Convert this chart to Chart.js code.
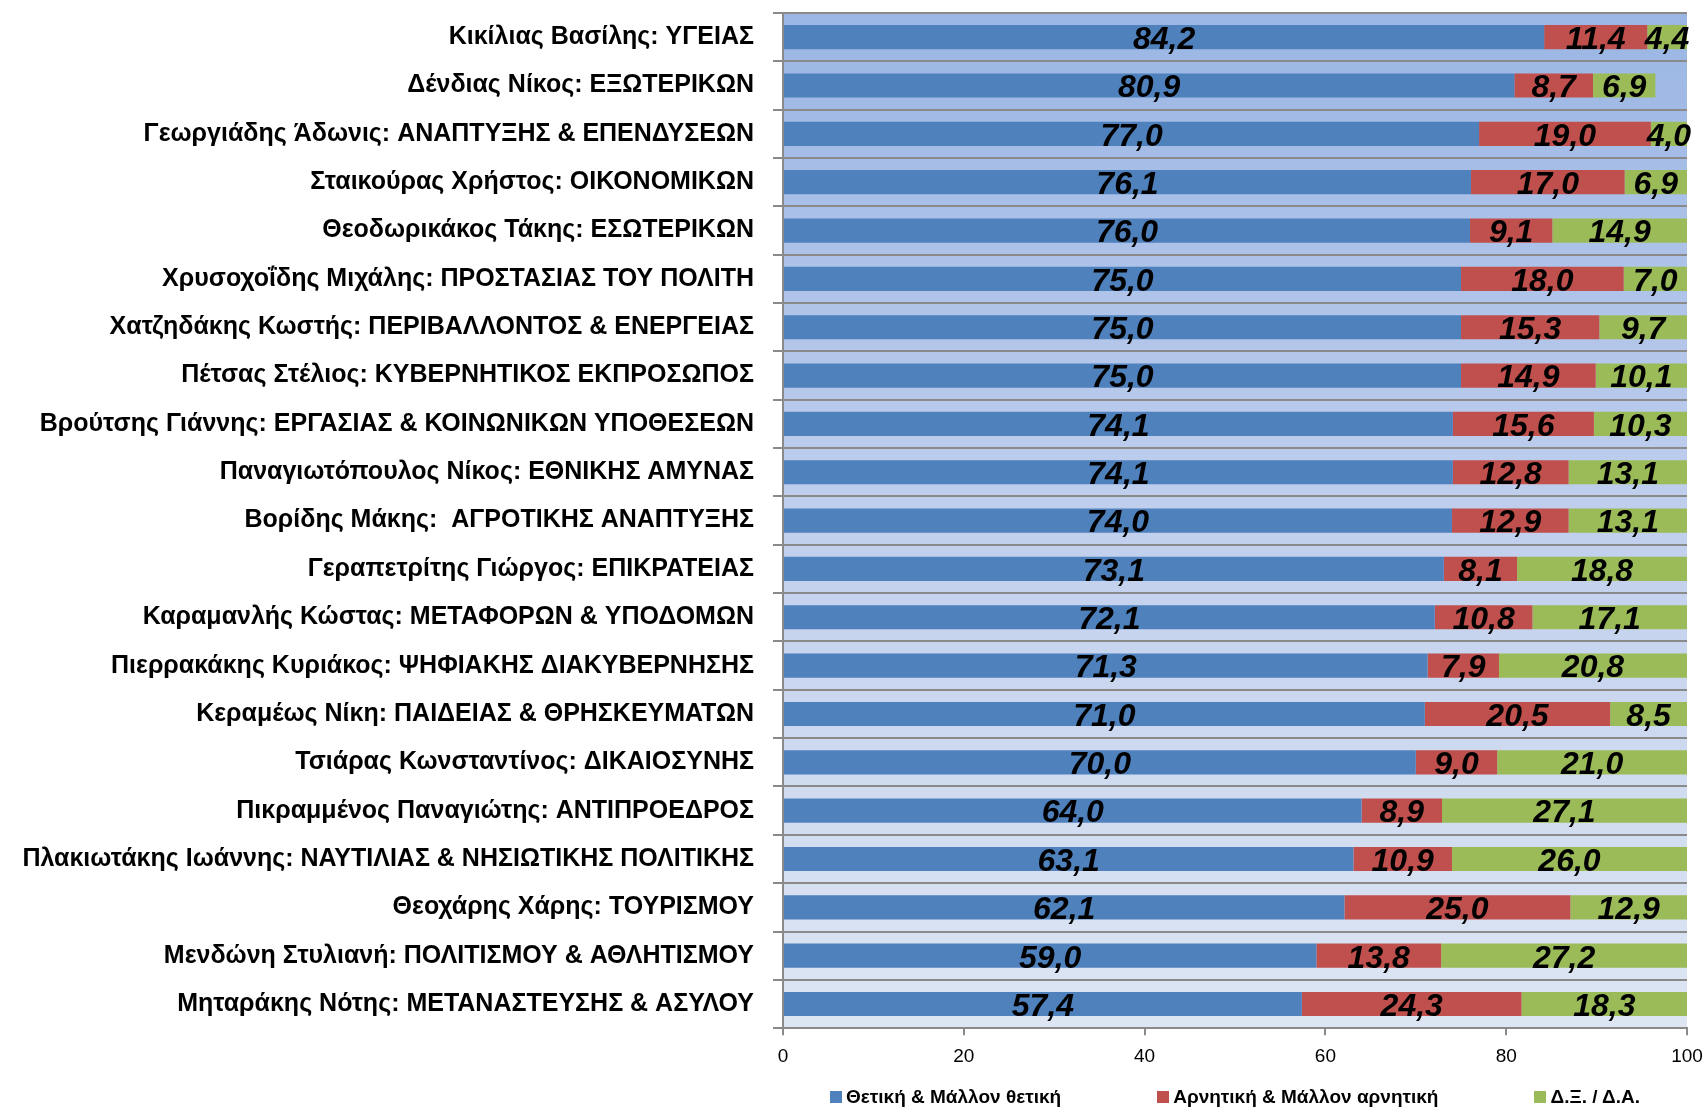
<!DOCTYPE html>
<html lang="el">
<head>
<meta charset="utf-8">
<title>Υπουργοί – θετική / αρνητική γνώμη</title>
<script src="https://cdn.jsdelivr.net/npm/chart.js@4.4.1/dist/chart.umd.min.js"></script>
<style>
  html, body { margin: 0; background: #fff; }
  #wrap { position: relative; width: 1706px; height: 1108px; }
  #chart { position: absolute; left: 0; top: 0; }
  #legend {
    position: absolute; left: 783px; width: 904px; top: 1086px;
    display: flex; justify-content: center; gap: 96px;
    font: bold 19px "Liberation Sans", Arial, sans-serif; color: #000;
  }
  #legend span.item { display: flex; align-items: center; white-space: nowrap; }
  #legend i { display: inline-block; width: 12px; height: 12px; margin-right: 4px; }
</style>
</head>
<body>
<div id="wrap">
  <canvas id="chart" width="1706" height="1108"></canvas>
  <div id="legend"></div>
</div>
<script>
// ministers, top to bottom
const ministers = [
  "Κικίλιας Βασίλης: ΥΓΕΙΑΣ",
  "Δένδιας Νίκος: ΕΞΩΤΕΡΙΚΩΝ",
  "Γεωργιάδης Άδωνις: ΑΝΑΠΤΥΞΗΣ & ΕΠΕΝΔΥΣΕΩΝ",
  "Σταικούρας Χρήστος: ΟΙΚΟΝΟΜΙΚΩΝ",
  "Θεοδωρικάκος Τάκης: ΕΣΩΤΕΡΙΚΩΝ",
  "Χρυσοχοΐδης Μιχάλης: ΠΡΟΣΤΑΣΙΑΣ ΤΟΥ ΠΟΛΙΤΗ",
  "Χατζηδάκης Κωστής: ΠΕΡΙΒΑΛΛΟΝΤΟΣ & ΕΝΕΡΓΕΙΑΣ",
  "Πέτσας Στέλιος: ΚΥΒΕΡΝΗΤΙΚΟΣ ΕΚΠΡΟΣΩΠΟΣ",
  "Βρούτσης Γιάννης: ΕΡΓΑΣΙΑΣ & ΚΟΙΝΩΝΙΚΩΝ ΥΠΟΘΕΣΕΩΝ",
  "Παναγιωτόπουλος Νίκος: ΕΘΝΙΚΗΣ ΑΜΥΝΑΣ",
  "Βορίδης Μάκης:  ΑΓΡΟΤΙΚΗΣ ΑΝΑΠΤΥΞΗΣ",
  "Γεραπετρίτης Γιώργος: ΕΠΙΚΡΑΤΕΙΑΣ",
  "Καραμανλής Κώστας: ΜΕΤΑΦΟΡΩΝ & ΥΠΟΔΟΜΩΝ",
  "Πιερρακάκης Κυριάκος: ΨΗΦΙΑΚΗΣ ΔΙΑΚΥΒΕΡΝΗΣΗΣ",
  "Κεραμέως Νίκη: ΠΑΙΔΕΙΑΣ & ΘΡΗΣΚΕΥΜΑΤΩΝ",
  "Τσιάρας Κωνσταντίνος: ΔΙΚΑΙΟΣΥΝΗΣ",
  "Πικραμμένος Παναγιώτης: ΑΝΤΙΠΡΟΕΔΡΟΣ",
  "Πλακιωτάκης Ιωάννης: ΝΑΥΤΙΛΙΑΣ & ΝΗΣΙΩΤΙΚΗΣ ΠΟΛΙΤΙΚΗΣ",
  "Θεοχάρης Χάρης: ΤΟΥΡΙΣΜΟΥ",
  "Μενδώνη Στυλιανή: ΠΟΛΙΤΙΣΜΟΥ & ΑΘΛΗΤΙΣΜΟΥ",
  "Μηταράκης Νότης: ΜΕΤΑΝΑΣΤΕΥΣΗΣ & ΑΣΥΛΟΥ"
];

const positive = [84.2, 80.9, 77.0, 76.1, 76.0, 75.0, 75.0, 75.0, 74.1, 74.1, 74.0, 73.1, 72.1, 71.3, 71.0, 70.0, 64.0, 63.1, 62.1, 59.0, 57.4];
const negative = [11.4, 8.7, 19.0, 17.0, 9.1, 18.0, 15.3, 14.9, 15.6, 12.8, 12.9, 8.1, 10.8, 7.9, 20.5, 9.0, 8.9, 10.9, 25.0, 13.8, 24.3];
const noAnswer = [4.4, 6.9, 4.0, 6.9, 14.9, 7.0, 9.7, 10.1, 10.3, 13.1, 13.1, 18.8, 17.1, 20.8, 8.5, 21.0, 27.1, 26.0, 12.9, 27.2, 18.3];

const xTicks = [0, 20, 40, 60, 80, 100];

const seriesNames = ["Θετική & Μάλλον θετική", "Αρνητική & Μάλλον αρνητική", "Δ.Ξ. / Δ.Α."];
const colors = { blue: "#4f81bd", red: "#c0504d", green: "#9bbb59", grid: "#8a8a8a" };

const FONT = '"Liberation Sans", Arial, sans-serif';

// light blue gradient behind the bars
const plotBackground = {
  id: "plotBackground",
  beforeDraw(chart) {
    const { ctx, chartArea: a } = chart;
    const g = ctx.createLinearGradient(0, a.top, 0, a.bottom);
    g.addColorStop(0, "#9bb6e4");
    g.addColorStop(0.5, "#c0cfed");
    g.addColorStop(1, "#dee6f3");
    ctx.save();
    ctx.fillStyle = g;
    ctx.fillRect(a.left, a.top, a.right - a.left, a.bottom - a.top);
    ctx.restore();
  }
};

// value in the middle of each segment, greek decimal comma
const segmentLabels = {
  id: "segmentLabels",
  afterDatasetsDraw(chart) {
    const { ctx } = chart;
    ctx.save();
    ctx.font = "italic bold 32px " + FONT;
    ctx.fillStyle = "#000";
    ctx.textAlign = "center";
    ctx.textBaseline = "middle";
    chart.data.datasets.forEach((ds, i) => {
      chart.getDatasetMeta(i).data.forEach((bar, j) => {
        const v = ds.data[j];
        ctx.fillText(v.toFixed(1).replace(".", ","), (bar.x + bar.base) / 2, bar.y + 3);
      });
    });
    ctx.restore();
  }
};

const ctx = document.getElementById("chart").getContext("2d");
const chart = new Chart(ctx, {
  type: "bar",
  data: {
    labels: ministers,
    datasets: [
      { label: seriesNames[0], data: positive, backgroundColor: colors.blue },
      { label: seriesNames[1], data: negative, backgroundColor: colors.red },
      { label: seriesNames[2], data: noAnswer, backgroundColor: colors.green }
    ]
  },
  options: {
    indexAxis: "y",
    responsive: false,
    animation: false,
    datasets: { bar: { barPercentage: 0.5, categoryPercentage: 1.0, borderWidth: 0 } },
    layout: { padding: { top: 13, right: 19, left: 0, bottom: 30 } },
    plugins: {
      legend: { display: false },
      tooltip: { enabled: false }
    },
    scales: {
      x: {
        stacked: true,
        min: 0,
        max: 100,
        afterBuildTicks(scale) { scale.ticks = xTicks.map(v => ({ value: v })); },
        afterFit(scale) {
          scale.paddingLeft = 0;
          scale.paddingRight = 0;
        },
        border: { color: colors.grid, width: 2 },
        grid: { drawOnChartArea: false, drawTicks: true, tickLength: 7, color: colors.grid, lineWidth: 2 },
        ticks: { color: "#000", padding: 10, font: { family: FONT, size: 19 } }
      },
      y: {
        stacked: true,
        afterFit(scale) {
          scale.width = 783;
          scale.paddingTop = 0;
          scale.paddingBottom = 0;
        },
        border: { color: colors.grid, width: 2 },
        grid: { offset: true, color: colors.grid, lineWidth: 2, tickLength: 10 },
        ticks: { color: "#000", padding: 19, autoSkip: false, font: { family: FONT, size: 25, weight: "bold" } }
      }
    }
  },
  plugins: [plotBackground, segmentLabels]
});

// legend underneath, built from the datasets
const legendEl = document.getElementById("legend");
chart.data.datasets.forEach(ds => {
  const item = document.createElement("span");
  item.className = "item";
  const sw = document.createElement("i");
  sw.style.background = ds.backgroundColor;
  item.appendChild(sw);
  item.appendChild(document.createTextNode(ds.label));
  legendEl.appendChild(item);
});
</script>
</body>
</html>
